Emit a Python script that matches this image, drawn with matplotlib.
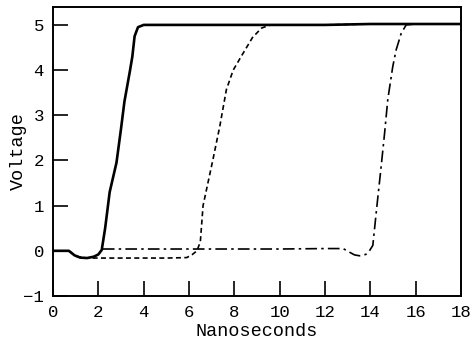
import numpy as np
import matplotlib.pyplot as plt

plt.rcParams['font.family'] = ['Liberation Mono', 'DejaVu Sans Mono']

# solid trace: fastest transition
t_solid = [0, 0.7, 0.95, 1.2, 1.5, 1.8, 2.0, 2.15, 2.3, 2.5, 2.8, 3.0, 3.15, 3.4,
           3.5, 3.6, 3.75, 4.0, 6, 8, 10, 12, 14, 16, 18]
v_solid = [0, 0, -0.1, -0.15, -0.16, -0.13, -0.08, 0.02, 0.5, 1.3, 1.95, 2.7, 3.3,
           4.0, 4.3, 4.75, 4.95, 5.0, 5.0, 5.0, 5.0, 5.0, 5.02, 5.02, 5.02]

# dashed trace: second stage
t_dash = [0, 0.7, 1.0, 1.5, 3, 5, 5.9, 6.15, 6.35, 6.5, 6.62, 7.06, 7.36, 7.65,
          7.95, 8.3, 8.8, 9.2, 9.6, 12, 14, 16, 18]
v_dash = [0, 0, -0.12, -0.16, -0.16, -0.16, -0.15, -0.08, 0.0, 0.2, 1.0, 2.03,
          2.76, 3.57, 4.0, 4.3, 4.72, 4.93, 5.0, 5.0, 5.02, 5.02, 5.02]

# dash-dot trace: third stage
t_dd = [2.2, 4, 6, 8, 10, 12, 12.8, 13.08, 13.3, 13.52, 13.8, 13.96, 14.11, 14.26,
        14.48, 14.63, 14.77, 14.99, 15.14, 15.36, 15.58, 16, 18]
v_dd = [0.04, 0.04, 0.04, 0.04, 0.04, 0.05, 0.05, -0.03, -0.09, -0.11, -0.08, 0.0,
        0.12, 0.85, 1.88, 2.61, 3.35, 4.08, 4.45, 4.81, 5.0, 5.02, 5.02]

fig = plt.figure(figsize=(4.72, 3.42), dpi=100)
ax = fig.add_axes([0.1123, 0.1345, 0.8644, 0.8455])

ax.plot(t_solid, v_solid, color='black', lw=1.9, ls='-')
ax.plot(t_dash, v_dash, color='black', lw=1.2, ls=(0, (3, 2)))
ax.plot(t_dd, v_dd, color='black', lw=1.2, ls=(0, (7, 2.5, 1.5, 2.5)))

ax.set_xlim(0, 18)
ax.set_ylim(-1, 5.4)
ax.set_xticks(np.arange(0, 19, 2))
ax.set_yticks(np.arange(-1, 6, 1))
ax.tick_params(direction='in', length=11, width=1.2, labelsize=12.5, pad=6.5)
for s in ax.spines.values():
    s.set_linewidth(1.4)

ax.set_xlabel('Nanoseconds', fontsize=13.3, labelpad=2)
ax.set_ylabel('Voltage', fontsize=13.3, labelpad=-3)

fig.savefig('out.png', dpi=100)
